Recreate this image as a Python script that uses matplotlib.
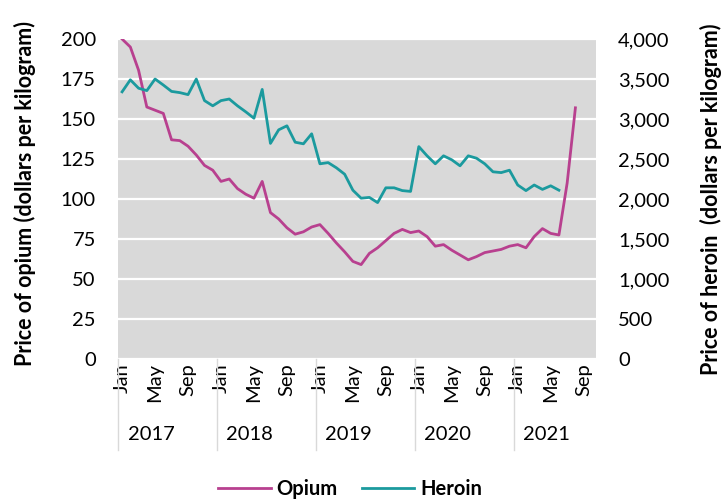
import matplotlib
matplotlib.use("Agg")
import matplotlib.pyplot as plt
import matplotlib.transforms as mtransforms
import numpy as np

# monthly prices, Jan 2017 onwards
months = ["Jan", "Feb", "Mar", "Apr", "May", "Jun", "Jul", "Aug", "Sep", "Oct", "Nov", "Dec"]
years = [2017, 2018, 2019, 2020, 2021]
n_months_2021 = 10  # axis runs to Oct 2021

opium = [200, 195, 180.5, 157.5, 155.5, 153.5, 137, 136.5, 133, 127.5, 121, 118,
         111, 112.5, 106.5, 103, 100.5, 111, 91.5, 87.5, 82, 78, 79.5, 82.5,
         84, 78.5, 72.5, 67, 61, 59, 66, 69.5, 74, 78.5, 81, 79,
         80, 76.5, 70.5, 71.5, 68, 65, 62, 64, 66.5, 67.5, 68.5, 70.5,
         71.5, 69.5, 76.5, 81.5, 78.5, 77.5, 110, 157]
heroin = [3340, 3490, 3385, 3355, 3500, 3425, 3345, 3330, 3305, 3500, 3230, 3165,
          3230, 3250, 3165, 3090, 3010, 3370, 2695, 2865, 2915, 2710, 2690, 2815,
          2440, 2455, 2390, 2310, 2110, 2010, 2020, 1955, 2140, 2140, 2105, 2095,
          2655, 2540, 2440, 2540, 2490, 2415, 2540, 2510, 2440, 2340, 2330, 2360,
          2175, 2105, 2175, 2120, 2165, 2110]

opium_col = "#B8408F"
heroin_col = "#1B9A9E"
bg = "#D9D9D9"
font = ["Lato", "DejaVu Sans"]
plt.rcParams["font.family"] = font
fs = 14.5

n_cat = 12 * (len(years) - 1) + n_months_2021

fig = plt.figure(figsize=(7.22, 4.99), dpi=100)
ax = fig.add_axes([0.1634, 0.2806, 0.8255 - 0.1634, 0.9218 - 0.2806])
ax2 = ax.twinx()

ax.set_facecolor(bg)
for s in ax.spines.values():
    s.set_visible(False)
for s in ax2.spines.values():
    s.set_visible(False)

ax.set_ylim(0, 200)
ax.set_yticks(np.arange(0, 201, 25))
ax2.set_ylim(0, 4000)
ax2.set_yticks(np.arange(0, 4001, 500))
ax2.set_yticklabels(["{:,}".format(v) for v in range(0, 4001, 500)])
ax.yaxis.grid(True, color="white", lw=1.6)
ax.set_axisbelow(True)
ax.set_xlim(-0.5, n_cat - 0.5)

l1, = ax.plot(np.arange(len(opium)), opium, color=opium_col, lw=2.0, zorder=3)
l2, = ax2.plot(np.arange(len(heroin)), heroin, color=heroin_col, lw=2.0, zorder=3)

ax.tick_params(axis="y", length=0, labelsize=fs, pad=16)
ax2.tick_params(axis="y", length=0, labelsize=fs, pad=16)

# month ticks: Jan, May, Sep
xt = [i for i in range(n_cat) if i % 4 == 0]
ax.set_xticks(xt)
ax.set_xticklabels([months[i % 12] for i in xt], rotation=90, fontsize=fs)
ax.tick_params(axis="x", length=0, pad=3)

# year separators and labels
trans = mtransforms.blended_transform_factory(ax.transData, ax.transAxes)
for k, yr in enumerate(years):
    x0 = 12 * k - 0.5
    ax.plot([x0, x0], [0, -0.285], color="#D9D9D9", lw=1, transform=trans, clip_on=False)
    ax.text(12 * k + 3.5, -0.236, str(yr), transform=trans, ha="center", va="center", fontsize=fs)

ax.set_ylabel("Price of opium (dollars per kilogram)", fontsize=15.5, fontweight="bold", va="center")
ax.yaxis.set_label_coords(-0.195, 0.517)
ax2.set_ylabel("Price of heroin  (dollars per kilogram)", fontsize=15.5, fontweight="bold",
               va="center", rotation=90)
ax2.yaxis.set_label_coords(1.2406, 0.50)

fig.legend([l1, l2], ["Opium", "Heroin"], loc="center", bbox_to_anchor=(0.485, 0.02),
           ncol=2, frameon=False, handlelength=2.6, columnspacing=1.2, handletextpad=0.3,
           prop={"weight": "bold", "size": fs})

fig.savefig("out.png", dpi=100)
